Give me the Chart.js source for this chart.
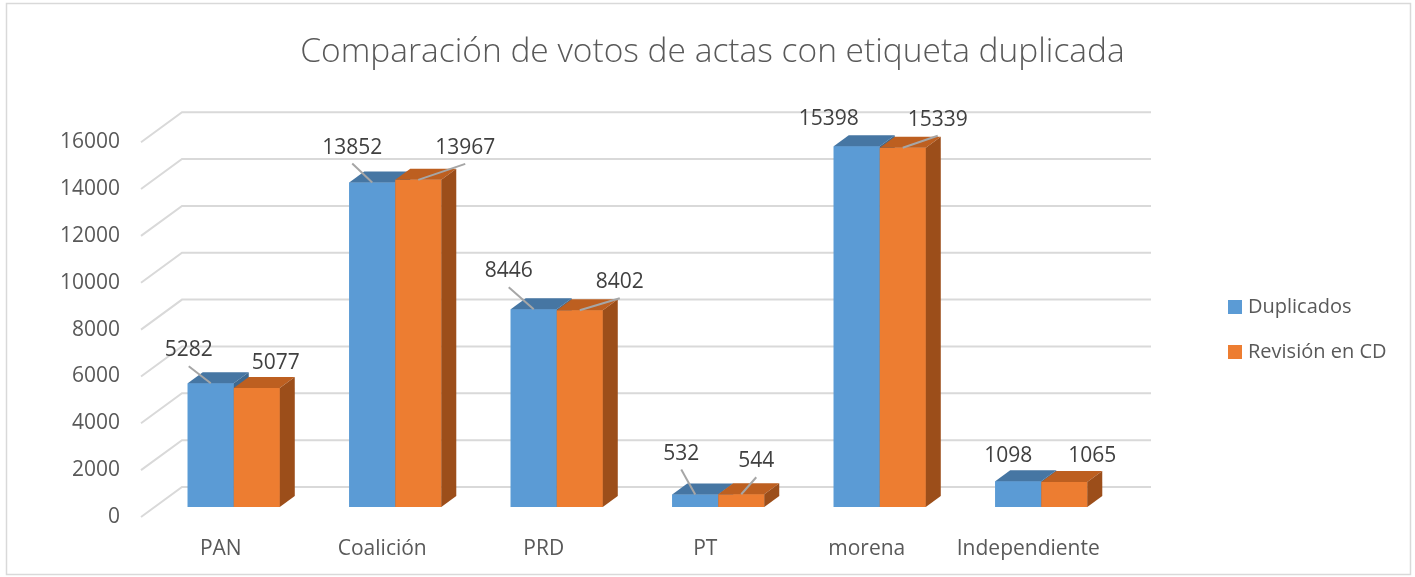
<!DOCTYPE html>
<html>
<head>
<meta charset="utf-8">
<title>Comparación de votos de actas con etiqueta duplicada</title>
<script src="https://cdn.jsdelivr.net/npm/chart.js@4.4.0/dist/chart.umd.min.js"></script>
<style>
    html, body { margin: 0; padding: 0; background: #fff; }
    canvas { display: block; }
</style>
</head>
<body>
<canvas id="myChart" width="1415" height="577"></canvas>
<script>
const partidos = ['PAN', 'Coalición', 'PRD', 'PT', 'morena', 'Independiente'];
const duplicados = [5282, 13852, 8446, 532, 15398, 1098];
const revisionCD = [5077, 13967, 8402, 544, 15339, 1065];
const yTicks = [0, 2000, 4000, 6000, 8000, 10000, 12000, 14000, 16000];

const FONT = "'Open Sans', sans-serif";
const GRAY = '#595959';

// 3d look: depth of the bars
const depthX = 15, depthY = -11;

// label offsets from the front-top middle of each bar (as Excel left them)
const labelShift = [
    [[-22, -34], [-20, -36], [-25, -39], [-14, -42], [-28, -28], [-10, -26]],
    [[19, -26], [47, -33], [40, -29], [15, -34], [35, -29], [28, -27]]
];
const leader = [
    [1, 1, 1, 1, 0, 0],
    [0, 1, 1, 1, 1, 0]
];

const faceColors = [
    {top: '#4676a3', side: '#3d6991'},
    {top: '#bd5f20', side: '#9c4e1a'}
];

const border = {
    id: 'border',
    beforeDraw(chart){
        const ctx = chart.ctx;
        ctx.save();
        ctx.strokeStyle = '#d9d9d9';
        ctx.lineWidth = 1.5;
        ctx.strokeRect(6.5, 3.5, 1404, 571);
        ctx.restore();
    }
}

// gridlines bent over the 3d floor
const grid3d = {
    id: 'grid3d',
    beforeDatasetsDraw(chart){
        const ctx = chart.ctx;
        const area = chart.chartArea;
        const y = chart.scales.y;
        ctx.save();
        ctx.strokeStyle = '#d9d9d9';
        ctx.lineWidth = 2;
        yTicks.forEach(v => {
            const py = y.getPixelForValue(v);
            ctx.beginPath();
            ctx.moveTo(area.left - 12, py + 10);
            ctx.lineTo(area.left + 29, py - 20);
            ctx.lineTo(area.right + 29, py - 20);
            ctx.stroke();
        });
        ctx.restore();
    }
}

const bars3d = {
    id: 'bars3d',
    afterDatasetsDraw(chart){
        const ctx = chart.ctx;
        ctx.save();
        chart.data.datasets.forEach((ds, d) => {
            const meta = chart.getDatasetMeta(d);
            meta.data.forEach(bar => {
                const {x, y, base, width} = bar.getProps(['x', 'y', 'base', 'width'], true);
                const l = x - width / 2, r = x + width / 2;
                bar.draw(ctx);
                ctx.fillStyle = faceColors[d].top;
                ctx.beginPath();
                ctx.moveTo(l, y);
                ctx.lineTo(l + depthX, y + depthY);
                ctx.lineTo(r + depthX, y + depthY);
                ctx.lineTo(r, y);
                ctx.closePath();
                ctx.fill();
                ctx.fillStyle = faceColors[d].side;
                ctx.beginPath();
                ctx.moveTo(r, y);
                ctx.lineTo(r + depthX, y + depthY);
                ctx.lineTo(r + depthX, base + depthY);
                ctx.lineTo(r, base);
                ctx.closePath();
                ctx.fill();
            });
        });

        // data labels
        ctx.font = '21px ' + FONT;
        ctx.textAlign = 'center';
        ctx.textBaseline = 'middle';
        chart.data.datasets.forEach((ds, d) => {
            const meta = chart.getDatasetMeta(d);
            meta.data.forEach((bar, i) => {
                const {x, y} = bar.getProps(['x', 'y'], true);
                const lx = x + labelShift[d][i][0];
                const ly = y + labelShift[d][i][1];
                if(leader[d][i]){
                    ctx.strokeStyle = '#a6a6a6';
                    ctx.lineWidth = 2;
                    ctx.beginPath();
                    ctx.moveTo(lx, ly + 17);
                    ctx.lineTo(x, y);
                    ctx.stroke();
                }
                ctx.fillStyle = '#404040';
                ctx.fillText(ds.data[i], lx, ly + 1);
            });
        });
        ctx.restore();
    }
}

const legendBox = {
    id: 'legendBox',
    afterDraw(chart){
        const ctx = chart.ctx;
        ctx.save();
        ctx.font = '20px ' + FONT;
        ctx.textBaseline = 'middle';
        ctx.textAlign = 'left';
        chart.data.datasets.forEach((ds, d) => {
            const cy = 307 + d * 45;
            ctx.fillStyle = ds.backgroundColor;
            ctx.fillRect(1228, cy - 7, 14, 14);
            ctx.fillStyle = GRAY;
            ctx.fillText(ds.label, 1248, cy);
        });
        ctx.restore();
    }
}

const ctx = document.getElementById('myChart').getContext('2d');
const myChart = new Chart(ctx, {
    type: 'bar',
    data: {
        labels: partidos,
        datasets: [{
            label: 'Duplicados',
            data: duplicados,
            backgroundColor: '#5b9bd5',
            categoryPercentage: 0.57,
            barPercentage: 1
        }, {
            label: 'Revisión en CD',
            data: revisionCD,
            backgroundColor: '#ed7d31',
            categoryPercentage: 0.57,
            barPercentage: 1
        }]
    },
    options: {
        responsive: false,
        animation: false,
        layout: {
            padding: {left: 10, right: 0, top: 0, bottom: 0}
        },
        plugins: {
            legend: {display: false},
            tooltip: {enabled: false},
            title: {
                display: true,
                text: 'Comparación de votos de actas con etiqueta duplicada',
                color: GRAY,
                font: {family: FONT, size: 33.5, weight: '300'},
                padding: {top: 32, bottom: 60}
            }
        },
        scales: {
            x: {
                afterFit: s => { s.height = 70 },
                grid: {display: false, drawTicks: false},
                border: {display: false},
                ticks: {
                    padding: 29,
                    labelOffset: -13,
                    color: GRAY,
                    font: {family: FONT, size: 21}
                }
            },
            y: {
                min: 0,
                max: 16000,
                afterBuildTicks: s => { s.ticks = yTicks.map(v => ({value: v})) },
                afterFit: s => { s.width = 143 },
                grid: {display: false, drawTicks: false},
                border: {display: false},
                ticks: {
                    padding: 33,
                    labelOffset: 10,
                    color: GRAY,
                    font: {family: FONT, size: 21},
                    callback: v => String(v)
                }
            },
            // empty room on the right for the legend
            y2: {
                position: 'right',
                afterFit: s => { s.width = 293 },
                grid: {display: false, drawTicks: false},
                border: {display: false},
                ticks: {display: false}
            }
        }
    },
    plugins: [border, grid3d, bars3d, legendBox]
});
</script>
</body>
</html>
